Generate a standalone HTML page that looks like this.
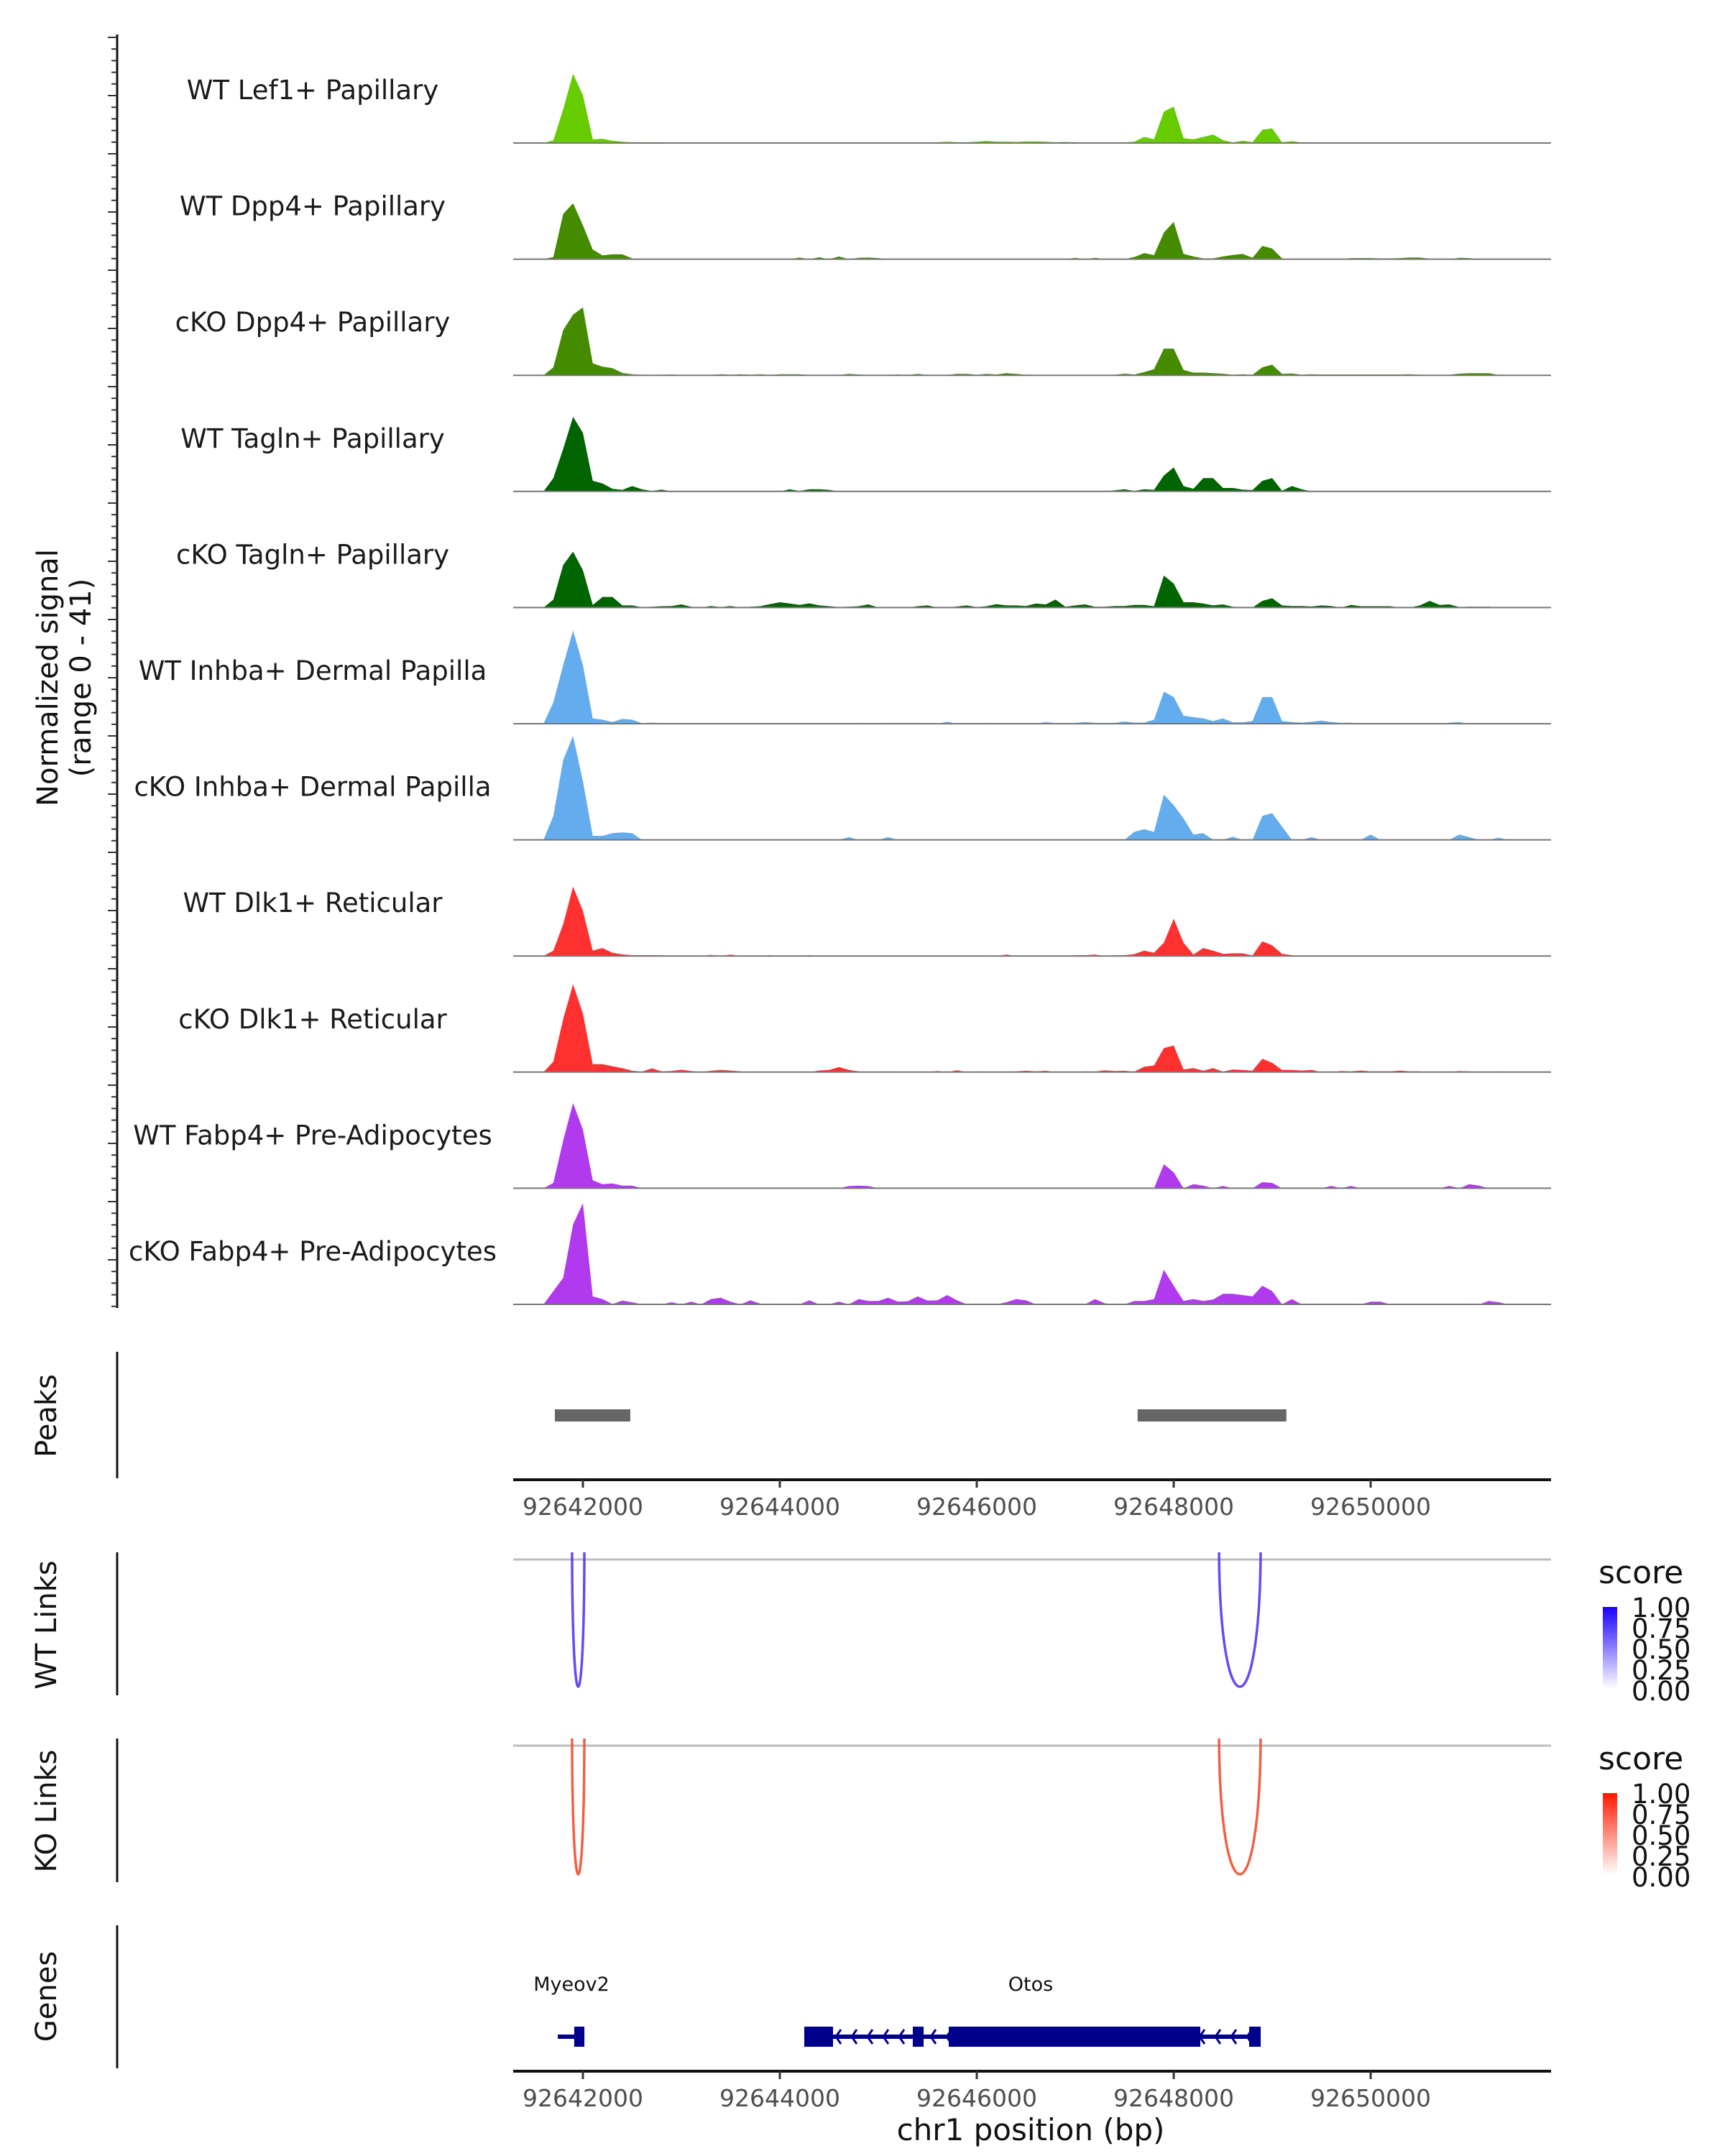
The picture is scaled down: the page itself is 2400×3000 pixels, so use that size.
<!DOCTYPE html>
<html><head><meta charset="utf-8"><style>
html,body{margin:0;padding:0;background:#fff;}
svg{display:block;font-family:"DejaVu Sans","Liberation Sans",sans-serif;}
</style></head><body>
<svg id="chart" width="2400" height="3000" viewBox="0 0 2400 3000" xmlns="http://www.w3.org/2000/svg">
<g id="axes"></g>
<g id="tracks"></g>
<text transform="translate(80,943) rotate(-90)" text-anchor="middle" font-size="40" fill="#111"><tspan x="0" y="0">Normalized signal</tspan><tspan x="0" y="46">(range 0 - 41)</tspan></text>
<text transform="translate(78,1970) rotate(-90)" text-anchor="middle" font-size="40" fill="#111">Peaks</text>
<text transform="translate(78,2261) rotate(-90)" text-anchor="middle" font-size="40" fill="#111">WT Links</text>
<text transform="translate(78,2520) rotate(-90)" text-anchor="middle" font-size="40" fill="#111">KO Links</text>
<text transform="translate(78,2778) rotate(-90)" text-anchor="middle" font-size="40" fill="#111">Genes</text>
<text x="1434" y="2978" text-anchor="middle" font-size="42" fill="#111">chr1 position (bp)</text>
<defs>
<linearGradient id="gBlue" x1="0" y1="1" x2="0" y2="0"><stop offset="0" stop-color="#ffffff"/><stop offset="1" stop-color="#1a00ff"/></linearGradient>
<linearGradient id="gRed" x1="0" y1="1" x2="0" y2="0"><stop offset="0" stop-color="#ffffff"/><stop offset="1" stop-color="#ff1a00"/></linearGradient>
<clipPath id="clipWT"><rect x="714" y="2160" width="1444" height="200"/></clipPath>
<clipPath id="clipKO"><rect x="714" y="2419" width="1444" height="200"/></clipPath>
</defs>
<g id="legends"></g>
</svg>
<script>
const binStart = 92641400;
const binSize = 100;
const trackNames = ["WT Lef1+ Papillary","WT Dpp4+ Papillary","cKO Dpp4+ Papillary","WT Tagln+ Papillary","cKO Tagln+ Papillary","WT Inhba+ Dermal Papilla","cKO Inhba+ Dermal Papilla","WT Dlk1+ Reticular","cKO Dlk1+ Reticular","WT Fabp4+ Pre-Adipocytes","cKO Fabp4+ Pre-Adipocytes"];
const trackColors = ["#66cc00","#458b00","#458b00","#006400","#006400","#63acee","#63acee","#ff3030","#ff3030","#b23aee","#b23aee"];
const sigLef1WT = [0,0,0,1,12.7,26,18,1.4,1.6,0.9, 0.5,0.3,0.3,0.3,0.3,0.2,0.2,0.1,0.1,0.2, 0.2,0.1,0.1,0.2,0.3,0.2,0.1,0.1,0.1,0.1, 0.2,0.1,0.2,0.2,0.1,0.2,0.1,0.1,0.2,0.2, 0.1,0.1,0.3,0.5,0.3,0.3,0.5,0.8,0.5,0.5, 0.4,0.6,0.6,0.5,0.3,0.4,0.3,0.2,0.2,0.2, 0.2,0.2,0.5,2.3,1.4,11.8,13.7,1.8,1.4,2.3, 3.2,1.1,0.2,0.9,0.3,5,5.5,0.3,0.7,0.2, 0.2,0.2,0.2,0.2,0.2,0.2,0.2,0.2,0.2,0.2, 0.2,0.2,0.2,0.2,0.2,0.2,0.2,0.2,0.2,0.1, 0,0,0,0,0];
const sigDpp4WT = [0,0,0,0.8,17,21,12.7,3.6,1.4,1.8, 1.8,0.3,0,0,0,0,0,0,0,0, 0,0,0,0,0,0,0,0,0.6,0, 0.7,0,1.0,0,0.5,0.6,0.4,0,0,0, 0,0,0,0,0,0,0,0,0,0, 0,0,0,0,0,0,0.5,0,0.5,0, 0,0,0.8,2.3,1.5,10,14,2,1,0.3, 0.3,1.0,1.6,2,0.5,5,4,0.3,0,0, 0,0,0,0,0.4,0.4,0.4,0.3,0.3,0.4, 0.6,0.6,0.2,0,0,0.5,0.4,0,0,0, 0,0,0,0,0];
const sigDpp4KO = [0,0,0,3,17,22.8,25.5,4.5,3.2,2.7, 0.9,0.4,0.2,0.2,0.2,0.3,0.1,0.1,0.1,0.1, 0.4,0.2,0.4,0.2,0.4,0.1,0.4,0.4,0.4,0.1, 0.1,0.1,0.1,0.5,0.3,0.1,0.1,0.1,0.3,0.1, 0.5,0.1,0.1,0.1,0.5,0.5,0.2,0.5,0.3,0.8, 0.5,0.2,0.2,0.2,0.2,0.2,0.2,0.2,0.2,0.2, 0.2,0.6,0.3,1.2,2.3,10,10,2,1,1, 0.8,0.6,0.2,0.4,0.2,3,4,0.5,0.7,0.2, 0.4,0.3,0.3,0.3,0.3,0.3,0.3,0.3,0.3,0.3, 0.4,0.2,0.2,0.2,0.2,0.6,0.8,0.8,0.8,0.1, 0,0,0,0,0];
const sigTaglnWT = [0,0,0,5,16,28,22,4,3,1, 0.6,2,0.8,0.2,0.7,0,0,0,0,0, 0,0,0,0,0,0,0,0.8,0.2,0.8, 0.8,0.6,0,0,0,0,0,0,0,0, 0,0,0,0,0,0,0,0,0,0, 0,0,0,0,0,0,0,0,0,0, 0.4,0.8,0.2,0.8,0.6,6,9,2,1,5, 5,1.3,1.3,0.7,0.5,4,5,0.3,2,0.8, 0,0,0,0,0,0,0,0,0,0, 0,0,0,0,0,0,0,0,0,0, 0,0,0,0,0];
const sigTaglnKO = [0,0,0,3,16,21,14,1,4,4, 0.8,0.8,0.1,0.3,0.5,0.6,1.2,0.3,0,0.6, 0.2,0.6,0,0.3,0.5,1.3,2,1.5,1,1.6, 0.8,0.5,0.2,0.3,0.5,1.2,0,0,0,0, 0.5,0.8,0,0,0.4,0.8,0.2,0.5,1.3,0.8, 0.8,0.6,1.5,1.2,3,0.3,0.8,1.2,0.3,0.3, 0.6,0.6,1,1,0.5,12,9,2,2,1.5, 0.8,1.2,0.3,0,0,2.5,3.5,0.8,0.6,0.6, 0.4,0.8,0.6,0,1,0.5,0.5,0.5,0.5,0, 0,0.8,2.5,1,1.2,0.2,0.3,0.3,0.3,0, 0,0,0,0,0];
const sigInhbaWT = [0,0,0,8,22,35,22,2,1.5,0.6, 1.8,1.5,0.2,0.4,0.2,0,0,0,0,0, 0,0,0,0,0,0,0,0,0,0, 0,0,0,0,0.3,0,0,0.3,0.3,0.3, 0.3,0,0,0.7,0,0,0,0.3,0,0, 0,0,0,0.6,0.2,0.3,0.3,0.6,0.3,0.3, 0.3,0.8,0.4,0.4,1.5,12,10,3,2.5,2, 1,2,0.5,0.5,1,10,10,1,0.6,0.4, 0.7,1.2,0.6,0.3,0.4,0,0,0,0,0, 0,0,0,0,0.4,0.6,0,0,0,0, 0,0,0,0,0];
const sigInhbaKO = [0,0,0,9,30,39,22,1.5,1.5,2.5, 2.8,2.5,0,0,0,0,0,0,0,0, 0,0,0,0,0,0,0,0,0,0, 0,0,0,1,0,0,0,1,0,0, 0,0,0,0,0,0,0,0,0,0, 0,0,0,0,0,0,0,0,0,0, 0,0,3,4,3,17,13,8,2,2.5, 0,0,1.2,0,0,9,10,5,0,0, 1,0,0,0,0,0,2,0,0,0, 0,0,0,0,0,2,1,0,0,0.8, 0,0,0,0,0];
const sigDlk1WT = [0,0,0,2,12,26,17,2,3,1.2, 0.6,0.3,0.3,0.3,0.3,0,0,0,0,0.4, 0,0.5,0,0,0,0.3,0,0,0,0.3, 0,0,0,0,0,0,0,0,0,0, 0,0,0,0,0,0,0,0,0,0.5, 0,0,0,0,0,0,0.3,0.3,0.5,0, 0.3,0.3,0.7,2,1.2,5,14,5,0.5,3, 2,0.8,1,1,0.2,5.5,4,0.8,0.3,0, 0,0,0,0,0,0,0,0,0,0, 0,0,0,0,0,0,0,0,0,0, 0,0,0,0,0];
const sigDlk1KO = [0,0,0,4,20,33,22,3,3,2.2, 1.5,0.5,0.2,1.4,0.3,0.4,0.9,0.4,0,0.5, 0.8,0.6,0.3,0,0,0,0,0,0,0, 0.6,0.8,1.9,0.8,0.3,0,0,0.3,0,0, 0,0,0.4,0,0.7,0,0.3,0,0,0, 0.3,0.5,0.3,0.5,0,0,0,0.3,0.2,0.7, 0.4,0.5,0.2,2,2.5,9,10,1,1.5,0.5, 1.5,0.2,1,0.8,0.5,5,3.5,0.8,0.8,0.6, 0.8,0,0,0.4,0.3,0.6,0.3,0.3,0.3,0.6, 0.3,0.3,0,0,0,0.4,0.3,0,0,0.3, 0,0,0,0,0];
const sigFabp4WT = [0,0,0,2,18,32,22,3,1.5,1.8, 1,1,0,0,0,0,0,0,0,0, 0,0,0,0,0,0,0,0,0,0, 0,0,0,0.8,1,0.8,0,0,0,0, 0,0,0,0,0,0,0,0,0,0, 0,0,0,0,0,0,0,0,0,0, 0,0,0,0,0,9,6,0,1.5,1, 0,0.9,0,0,0,2.3,2,0,0,0, 0,0,0.9,0,0.9,0,0,0,0,0, 0,0,0,0,0.9,0,1.5,1,0,0, 0,0,0,0,0];
const sigFabp4KO = [0,0,0,5,10,30,38,3,2,0.1, 1.4,0.8,0,0,0,0.8,0,1,0,2, 2.5,1,0,1.5,0.3,0,0,0,0,1.5, 0,0,1,0,2,1.3,1.3,2.5,1,1.2, 3,1.4,1.5,3.5,1.5,0,0,0,0,0.8, 2,1.5,0,0,0,0,0,0,2,0.4, 0,0,1.3,1.3,2,13,7,1.3,2,1.3, 1.8,4,4,3.5,3,7,5,0,2,0, 0,0,0,0,0,0,1,1,0,0, 0,0,0,0,0,0,0,0,1.3,0.8, 0,0,0,0,0];
const signals = [sigLef1WT,sigDpp4WT,sigDpp4KO,sigTaglnWT,sigTaglnKO,sigInhbaWT,sigInhbaKO,sigDlk1WT,sigDlk1KO,sigFabp4WT,sigFabp4KO];
const xTicks = [92642000,92644000,92646000,92648000,92650000];
const peakStarts = [92641715,92647633];
const peakEnds = [92642481,92649144];
const wtLinkStarts = [92641890,92648460];
const wtLinkEnds = [92642015,92648883];
const wtLinkScores = [0.8,0.8];
const koLinkStarts = [92641890,92648460];
const koLinkEnds = [92642015,92648883];
const koLinkScores = [0.8,0.8];
const exonStarts = [92641912,92644248,92645350,92645715,92648766];
const exonEnds = [92642015,92644540,92645460,92648270,92648883];
const geneNames = ["Myeov2","Otos"];
const geneStarts = [92641745,92644248];
const geneEnds = [92642015,92648883];
const legendTicks = ["1.00","0.75","0.50","0.25","0.00"];

const NS="http://www.w3.org/2000/svg";
const X0=714, X1=2158, BP0=92641292, BP1=92651832;
function xs(bp){return X0+(bp-BP0)/(BP1-BP0)*(X1-X0);}
const maxSig=41, trackH=152, base0=199, trackStep=161.6;
function ys(v,k){return base0+k*trackStep - v/maxSig*trackH;}
function mk(tag,attrs,parent){const e=document.createElementNS(NS,tag);for(const k in attrs)e.setAttribute(k,attrs[k]);parent.appendChild(e);return e;}
const axes=document.getElementById('axes'), tracks=document.getElementById('tracks'), legends=document.getElementById('legends');

let ax=mk('line',{x1:163,y1:48,x2:163,y2:1820,stroke:'#111','stroke-width':3},axes);


for(let y=52,i=0;y<1820;y+=16.2,i++){
  const t=mk('line',{x1:(i%5==0?150:155),y1:y,x2:163,y2:y,stroke:'#333','stroke-width':2},axes);
  
  
}
[[1881,2057],[2160,2359],[2419,2619],[2679,2878]].forEach(r=>{
  const l=mk('line',{x1:163,y1:r[0],x2:163,y2:r[1],stroke:'#111','stroke-width':3},axes);
  
  
});

signals.forEach((sig,k)=>{
  const g=mk('g',{},tracks);
  
  
  const base=base0+k*trackStep;
  let d='M'+xs(binStart).toFixed(1)+','+base;
  sig.forEach((v,i)=>{d+=' L'+xs(binStart+i*binSize).toFixed(1)+','+ys(v,k).toFixed(1);});
  d+=' L'+xs(binStart+(sig.length-1)*binSize).toFixed(1)+','+base+' Z';
  const p=mk('path',{d:d,fill:trackColors[k]},g);
  
  
  const bl=mk('line',{x1:X0,y1:base,x2:X1,y2:base,stroke:'#777','stroke-width':2},g);
  
  
  const t=mk('text',{x:435,y:base-61,'text-anchor':'middle','font-size':37,fill:'#1a1a1a'},g);
  t.textContent=trackNames[k];
  
  
});

peakStarts.forEach((s,i)=>{
  const r=mk('rect',{x:xs(s),y:1961,width:xs(peakEnds[i])-xs(s),height:17,fill:'#666'},tracks);
  
  
});

function xAxis(y,labY){
  const l=mk('line',{x1:X0,y1:y,x2:X1,y2:y,stroke:'#111','stroke-width':4},axes);
  
  
  xTicks.forEach(b=>{
    const t=mk('line',{x1:xs(b),y1:y,x2:xs(b),y2:y+11,stroke:'#333','stroke-width':3},axes);
    
    
    const tx=mk('text',{x:xs(b),y:labY,'text-anchor':'middle','font-size':33,fill:'#4d4d4d'},axes);
    tx.textContent=String(b);
    
    
  });
}
xAxis(2059,2108);
xAxis(2882,2931);

function links(starts,ends,scores,top,depth,col,clip,nm){
  const bl=mk('line',{x1:X0,y1:top,x2:X1,y2:top,stroke:'#bdbdbd','stroke-width':3},tracks);
  
  
  const g=mk('g',{'clip-path':'url(#'+clip+')'},tracks);
  
  
  starts.forEach((s,i)=>{
    const a=xs(s),b=xs(ends[i]),cy=top+depth*4/3;
    const p=mk('path',{d:`M${a},${top-20} C${a},${cy} ${b},${cy} ${b},${top-20}`,fill:'none',stroke:col,'stroke-width':3.5,'stroke-opacity':0.4+0.6*scores[i]},g);
    
    
  });
}
links(wtLinkStarts,wtLinkEnds,wtLinkScores,2170,182,'#5530f0','clipWT','wt-link');
links(koLinkStarts,koLinkEnds,koLinkScores,2429,184,'#f04a2a','clipKO','ko-link');

function legend(y0,grad,nm){
  const g=mk('g',{},legends);
  
  
  const t=mk('text',{x:2224,y:y0,'font-size':44,fill:'#111'},g);
  t.textContent='score';
  const r=mk('rect',{x:2230,y:y0+33,width:20,height:114,fill:'url(#'+grad+')'},g);
  
  
  legendTicks.forEach((s,i)=>{
    const tx=mk('text',{x:2270,y:y0+47+i*29,'font-size':37,fill:'#111'},g);
    tx.textContent=s;
    
    
  });
}
legend(2203,'gBlue','wt-score-legend');
legend(2462,'gRed','ko-score-legend');

const gy=2834;
geneStarts.forEach((s,i)=>{
  const g=mk('g',{},tracks);
  
  
  const a=xs(s),b=xs(geneEnds[i]);
  mk('rect',{x:a,y:gy-3,width:b-a,height:6,fill:'#00008b'},g);
  for(let x=a+22;x<b-10;x+=22){
    mk('path',{d:`M${x+7},${gy-10} L${x},${gy} L${x+7},${gy+10}`,fill:'none',stroke:'#00008b','stroke-width':3},g);
  }
  const t=mk('text',{x:i==0?795:1434,y:2770,'text-anchor':'middle','font-size':27,fill:'#111'},g);
  t.textContent=geneNames[i];
  
  
});
exonStarts.forEach((s,i)=>{
  const r=mk('rect',{x:xs(s),y:gy-14,width:Math.max(4,xs(exonEnds[i])-xs(s)),height:28,fill:'#00008b'},tracks);
  
  
});
</script>
</body></html>
